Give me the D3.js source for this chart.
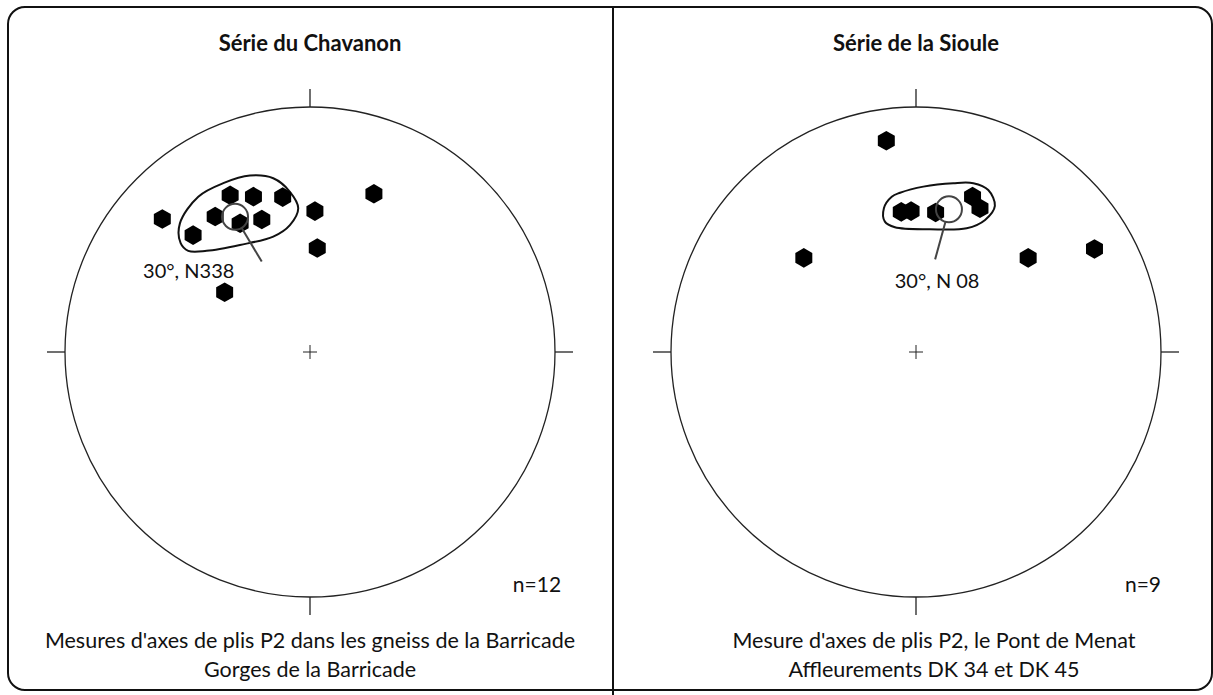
<!DOCTYPE html>
<html>
<head>
<meta charset="utf-8">
<script src="https://cdn.jsdelivr.net/npm/d3@7"></script>
<style>
  body { margin: 0; background: #fff; }
  text { font-family: Lato, "Open Sans", sans-serif; fill: #111; }
</style>
</head>
<body>
<div id="chart"></div>
<script>
// Stéréogrammes (canevas de Schmidt, hémisphère inférieur) : axes de plis P2
const width = 1213, height = 695,
    netRadius = 245,
    tickLength = 18,
    hexRadius = 9.8;

// Données : [direction (trend, °), plongement (°)]
const titles = ["Série du Chavanon", "Série de la Sioule"];
const counts = ["n=12", "n=9"];
const captions = [
    ["Mesures d'axes de plis P2 dans les gneiss de la Barricade", "Gorges de la Barricade"],
    ["Mesure d'axes de plis P2, le Pont de Menat", "Affleurements DK 34 et DK 45"]
];
const meanLabels = ["30°, N338", "30°, N 08"];

const chavanonAxes = [
    [312, 20], [315, 33], [325, 33], [333, 29], [340, 33], [350, 36],
    [331.5, 40], [340, 42], [2, 42], [4, 55], [22, 31], [305, 55]
];
const siouleAxes = [
    [352, 14], [310, 40], [50, 40], [60, 17], [354, 42],
    [358, 42], [8, 42], [20, 33], [24, 36]
];
const meanAxes = [[331, 37], [13, 40]];

// Contour de densité, en coordonnées du canevas (est, nord), rayon = 1
const chavanonContour = [
    [-0.531, 0.525], [-0.456, 0.634], [-0.354, 0.689], [-0.245, 0.720], [-0.150, 0.709],
    [-0.082, 0.654], [-0.048, 0.587], [-0.082, 0.518], [-0.150, 0.471], [-0.286, 0.437],
    [-0.422, 0.413], [-0.497, 0.413], [-0.528, 0.444]
];
const siouleContour = [
    [-0.099, 0.634], [-0.131, 0.587], [-0.127, 0.532], [-0.086, 0.509], [0.057, 0.501],
    [0.207, 0.505], [0.282, 0.539], [0.322, 0.596], [0.295, 0.661], [0.234, 0.689],
    [0.152, 0.689], [0.030, 0.675], [-0.065, 0.650]
];
// Extrémité du trait de rappel vers l'étiquette du pôle moyen
const leaderEnds = [[-0.197, 0.369], [0.078, 0.378]];

const panels = [
    {cx: 310, cy: 352, axes: chavanonAxes, contour: chavanonContour, captionX: 310,
        labelDx: -73, labelDy: 16, countX: 537},
    {cx: 916, cy: 352, axes: siouleAxes, contour: siouleContour, captionX: 934,
        labelDx: 2, labelDy: 29, countX: 1143}
];

const svg = d3.select("#chart").append("svg")
    .attr("width", width)
    .attr("height", height);

// Cadre arrondi et séparation
svg.append("rect")
    .attr("x", 8).attr("y", 7)
    .attr("width", 1204).attr("height", 683)
    .attr("rx", 17)
    .style("fill", "none")
    .style("stroke", "#111")
    .style("stroke-width", 2);

svg.append("line")
    .attr("x1", 613).attr("y1", 7)
    .attr("x2", 613).attr("y2", height)
    .style("stroke", "#111")
    .style("stroke-width", 2);

// projection équivalente (Schmidt) : direction/plongement -> (est, nord) unitaire
function schmidt(trend, plunge) {
    const r = Math.SQRT2 * Math.sin((90 - plunge) / 2 * Math.PI / 180);
    const a = trend * Math.PI / 180;
    return [r * Math.sin(a), r * Math.cos(a)];
}

function hexagon(cx, cy) {
    const pts = d3.range(6).map(i => {
        const a = Math.PI / 3 * i;
        return [cx + hexRadius * Math.sin(a), cy - hexRadius * Math.cos(a)];
    });
    return d3.line()(pts) + "Z";
}

panels.forEach((p, k) => {
    const x = d3.scaleLinear().domain([-1, 1]).range([p.cx - netRadius, p.cx + netRadius]);
    const y = d3.scaleLinear().domain([-1, 1]).range([p.cy + netRadius, p.cy - netRadius]);
    const g = svg.append("g");

    g.append("text")
        .attr("x", p.cx).attr("y", 51)
        .attr("text-anchor", "middle")
        .style("font-size", "22px")
        .style("font-weight", "bold")
        .text(titles[k]);

    g.append("circle")
        .attr("cx", x(0)).attr("cy", y(0))
        .attr("r", x(1) - x(0))
        .style("fill", "none")
        .style("stroke", "#222")
        .style("stroke-width", 1.3);

    // repères N, E, S, O
    [[0, 1], [1, 0], [0, -1], [-1, 0]].forEach(([e, n]) => {
        g.append("line")
            .attr("x1", x(e)).attr("y1", y(n))
            .attr("x2", x(e) + e * tickLength).attr("y2", y(n) - n * tickLength)
            .style("stroke", "#222")
            .style("stroke-width", 1.3);
    });

    // croix centrale
    g.append("path")
        .attr("d", "M" + (x(0) - 7) + "," + y(0) + "H" + (x(0) + 7) +
            "M" + x(0) + "," + (y(0) - 7) + "V" + (y(0) + 7))
        .style("stroke", "#222")
        .style("stroke-width", 1);

    // contour
    g.append("path")
        .datum(p.contour)
        .attr("d", d3.line().x(d => x(d[0])).y(d => y(d[1])).curve(d3.curveCatmullRomClosed.alpha(0.5)))
        .style("fill", "none")
        .style("stroke", "#111")
        .style("stroke-width", 2);

    // axes de plis
    g.selectAll("path.axe")
        .data(p.axes)
        .enter().append("path")
        .attr("class", "axe")
        .attr("d", d => {
            const u = schmidt(d[0], d[1]);
            return hexagon(x(u[0]), y(u[1]));
        })
        .style("fill", "#000");

    // pôle moyen + trait de rappel
    const m = schmidt(meanAxes[k][0], meanAxes[k][1]);
    const mx = x(m[0]), my = y(m[1]);
    const end = leaderEnds[k];
    const ex = x(end[0]), ey = y(end[1]);
    const dist = Math.hypot(ex - mx, ey - my);
    const meanR = 13;

    g.append("circle")
        .attr("cx", mx).attr("cy", my).attr("r", meanR)
        .style("fill", "none")
        .style("stroke", "#444")
        .style("stroke-width", 2);

    g.append("line")
        .attr("x1", mx + (ex - mx) * meanR / dist).attr("y1", my + (ey - my) * meanR / dist)
        .attr("x2", ex).attr("y2", ey)
        .style("stroke", "#444")
        .style("stroke-width", 2);

    g.append("text")
        .attr("x", ex + p.labelDx).attr("y", ey + p.labelDy)
        .attr("text-anchor", "middle")
        .style("font-size", "20px")
        .text(meanLabels[k]);

    g.append("text")
        .attr("x", p.countX).attr("y", 592)
        .attr("text-anchor", "middle")
        .style("font-size", "21px")
        .text(counts[k]);

    g.selectAll("text.caption")
        .data(captions[k])
        .enter().append("text")
        .attr("class", "caption")
        .attr("x", p.captionX)
        .attr("y", (d, i) => 648 + i * 28.5)
        .attr("text-anchor", "middle")
        .style("font-size", "21.5px")
        .text(d => d);
});
</script>
</body>
</html>
